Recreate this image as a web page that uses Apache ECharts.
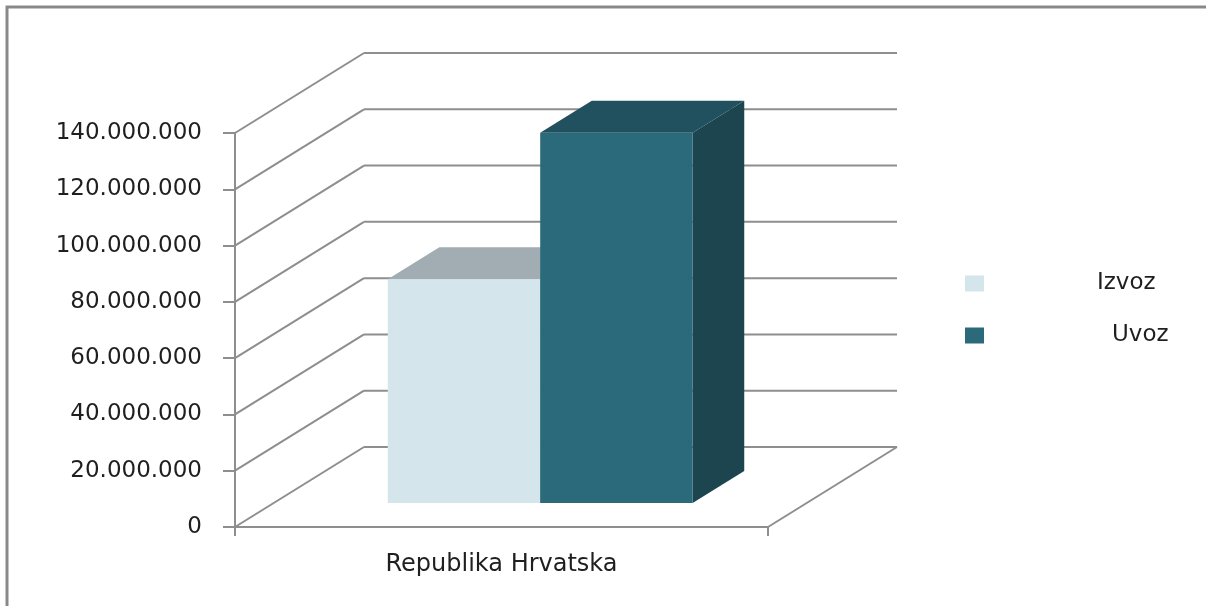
<!DOCTYPE html>
<html>
<head>
<meta charset="utf-8">
<script src="https://cdn.jsdelivr.net/npm/echarts@6/dist/echarts.min.js"></script>
<style>
  html, body { margin: 0; padding: 0; background: #fff; }
  #chart { width: 1206px; height: 606px; }
</style>
</head>
<body>
<div id="chart"></div>
<script>
// data
var categories = ['Republika Hrvatska'];
var seriesNames = ['Izvoz', 'Uvoz'];
var izvozValues = [79500000];
var uvozValues = [131600000];
var yTicks = [0, 20000000, 40000000, 60000000, 80000000, 100000000, 120000000, 140000000];

// 3d look (pixels)
var DX = 129, DY = -80;        // depth of the floor / walls
var BAR_FRONT = 0.3;           // where bar front sits in depth
var BAR_DEPTH = 0.4;           // how deep a bar is
var BAR_SHARE = 0.286;         // bar width / category width
var LINE = '#8e8e8e';
var FONT = 'DejaVu Sans';
var INK = '#1f1f1f';

function fmt(v) {
    return String(v).replace(/\B(?=(\d{3})+(?!\d))/g, '.');
}

function renderFrame(params, api) {
    var v = api.value(1);
    var p = api.coord([api.value(0), v]);
    var w = api.size([1, 0])[0];
    var left = p[0] - w / 2, right = p[0] + w / 2, y = p[1];
    var style = { stroke: LINE, lineWidth: 2, fill: null };
    var kids = [
        { type: 'line', shape: { x1: left, y1: y, x2: left + DX, y2: y + DY }, style: style },
        { type: 'line', shape: { x1: left + DX, y1: y + DY, x2: right + DX, y2: y + DY }, style: style }
    ];
    if (v === 0) {
        kids.push({ type: 'line', shape: { x1: right, y1: y, x2: right + DX, y2: y + DY }, style: style });
    }
    return { type: 'group', children: kids };
}

function makeBar(slot, front, top, side) {
    return function (params, api) {
        var cat = api.value(0);
        var p0 = api.coord([cat, 0]);
        var pv = api.coord([cat, api.value(1)]);
        var w = api.size([1, 0])[0];
        var bw = w * BAR_SHARE;
        var fx = DX * BAR_FRONT, fy = DY * BAR_FRONT;
        var dx = DX * BAR_DEPTH, dy = DY * BAR_DEPTH;
        var x0 = p0[0] - bw + slot * bw + fx, x1 = x0 + bw;
        var yb = p0[1] + fy, yt = pv[1] + fy;
        return {
            type: 'group',
            children: [
                { type: 'polygon', shape: { points: [[x1, yt], [x1 + dx, yt + dy], [x1 + dx, yb + dy], [x1, yb]] }, style: { fill: side } },
                { type: 'polygon', shape: { points: [[x0, yt], [x0 + dx, yt + dy], [x1 + dx, yt + dy], [x1, yt]] }, style: { fill: top } },
                { type: 'polygon', shape: { points: [[x0, yt], [x1, yt], [x1, yb], [x0, yb]] }, style: { fill: front } }
            ]
        };
    };
}

var chart = echarts.init(document.getElementById('chart'));
chart.setOption({
    backgroundColor: '#ffffff',
    animation: false,
    textStyle: { fontFamily: FONT },
    graphic: [{
        type: 'polyline',
        shape: { points: [[7, 606], [7, 7], [1206, 7]] },
        style: { stroke: '#898989', lineWidth: 3, fill: null }
    }],
    grid: { left: 235, top: 133, width: 533, height: 394 },
    legend: {
        data: seriesNames,
        orient: 'vertical',
        left: 960,
        top: 267,
        icon: 'rect',
        itemWidth: 19,
        itemHeight: 16,
        itemGap: 29,
        selectedMode: false,
        formatter: function (name) {
            return name === 'Izvoz' ? '{i|' + name + '}' : '{u|' + name + '}';
        },
        textStyle: {
            fontFamily: FONT,
            fontSize: 23,
            lineHeight: 22,
            color: INK,
            rich: {
                i: { fontFamily: FONT, fontSize: 23, color: INK, padding: [0, 0, 0, 108] },
                u: { fontFamily: FONT, fontSize: 23, color: INK, padding: [0, 0, 0, 123] }
            }
        }
    },
    xAxis: {
        type: 'category',
        data: categories,
        boundaryGap: true,
        axisLine: { lineStyle: { color: LINE, width: 2 } },
        axisTick: { show: true, interval: 0, length: 9, lineStyle: { color: LINE, width: 2 } },
        axisLabel: { margin: 26, fontSize: 24, color: INK, fontFamily: FONT }
    },
    yAxis: {
        type: 'value',
        min: 0,
        max: 140000000,
        interval: 20000000,
        axisLine: { show: true, lineStyle: { color: LINE, width: 2 } },
        axisTick: { show: true, length: 12, lineStyle: { color: LINE, width: 2 } },
        splitLine: { show: false },
        axisLabel: { margin: 33, padding: [8, 0, 0, 0], fontSize: 23, color: INK, fontFamily: FONT, formatter: fmt }
    },
    series: [
        {
            name: 'frame',
            type: 'custom',
            silent: true,
            clip: false,
            z: 1,
            renderItem: renderFrame,
            data: yTicks.map(function (v) { return [0, v]; })
        },
        {
            name: 'Izvoz',
            type: 'custom',
            clip: false,
            z: 2,
            itemStyle: { color: '#d5e5ec' },
            renderItem: makeBar(0, '#d5e5ec', '#a1adb3', '#9fb4bd'),
            data: izvozValues.map(function (v, i) { return [i, v]; })
        },
        {
            name: 'Uvoz',
            type: 'custom',
            clip: false,
            z: 3,
            itemStyle: { color: '#2b6a7a' },
            renderItem: makeBar(1, '#2b6a7a', '#21515e', '#1c4550'),
            data: uvozValues.map(function (v, i) { return [i, v]; })
        }
    ]
});
</script>
</body>
</html>
